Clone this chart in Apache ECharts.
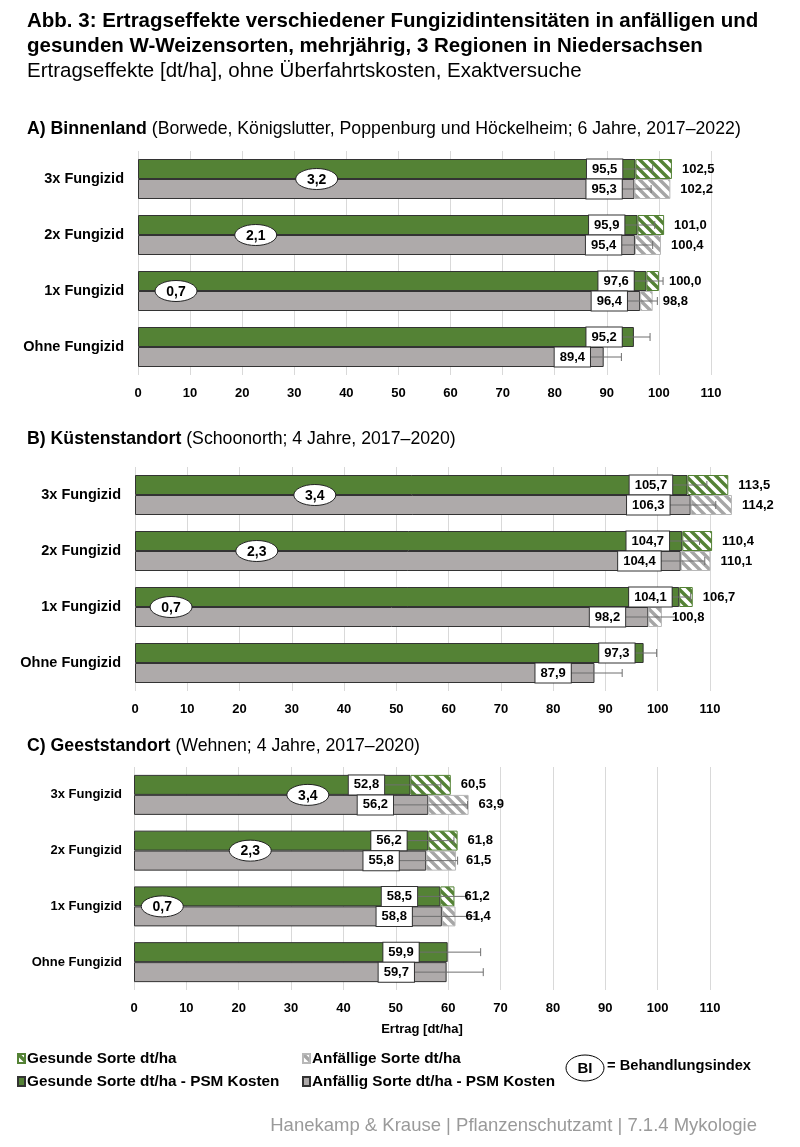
<!DOCTYPE html>
<html>
<head>
<meta charset="utf-8">
<script src="https://cdn.jsdelivr.net/npm/echarts@6/dist/echarts.min.js"></script>
<style>
  html, body { margin: 0; padding: 0; background: #fff; }
  #chart { width: 800px; height: 1147px; }
</style>
</head>
<body>
<div id="chart"></div>
<script>
const categories = ["3x Fungizid", "2x Fungizid", "1x Fungizid", "Ohne Fungizid"];

// A) Binnenland
const aHealthyNet = [95.5, 95.9, 97.6, 95.2];
const aHealthyTotal = [102.5, 101.0, 100.0, null];
const aHealthyErr = [3.3, 3.3, 3.2, 3.1];
const aSuscNet = [95.3, 95.4, 96.4, 89.4];
const aSuscTotal = [102.2, 100.4, 98.8, null];
const aSuscErr = [3.2, 3.4, 3.3, 3.4];
const aBI = [3.2, 2.1, 0.7, null];
const aBIAt = [34.3, 22.6, 7.3, null];

// B) Küstenstandort
const bHealthyNet = [105.7, 104.7, 104.1, 97.3];
const bHealthyTotal = [113.5, 110.4, 106.7, null];
const bHealthyErr = [3.7, 3.3, 2.2, 2.5];
const bSuscNet = [106.3, 104.4, 98.2, 87.9];
const bSuscTotal = [114.2, 110.1, 100.8, null];
const bSuscErr = [4.8, 4.6, 5.2, 5.3];
const bBI = [3.4, 2.3, 0.7, null];
const bBIAt = [34.4, 23.3, 6.9, null];

// C) Geeststandort
const cHealthyNet = [52.8, 56.2, 58.5, 59.9];
const cHealthyTotal = [60.5, 61.8, 61.2, null];
const cHealthyErr = [5.8, 4.9, 5.2, 6.3];
const cSuscNet = [56.2, 55.8, 58.8, 59.7];
const cSuscTotal = [63.9, 61.5, 61.4, null];
const cSuscErr = [7.5, 6.0, 6.5, 7.0];
const cBI = [3.4, 2.3, 0.7, null];
const cBIAt = [33.2, 22.2, 5.4, null];

const SANS = '"Liberation Sans", Arial, sans-serif';
const GREEN = "#548235";
const GRAY = "#aeaaaa";
const fmt = (v) => v.toFixed(1).replace(".", ",");

// diagonal stripes for the "total" part of the bars
function hatch(color) {
  const n = 10;
  const c = document.createElement("canvas");
  c.width = c.height = n;
  const g = c.getContext("2d");
  g.fillStyle = "#fff";
  g.fillRect(0, 0, n, n);
  g.strokeStyle = color;
  g.lineWidth = 3.4;
  g.beginPath();
  g.moveTo(-n / 2, n / 2); g.lineTo(n / 2, n * 1.5);
  g.moveTo(0, 0); g.lineTo(n, n);
  g.moveTo(n / 2, -n / 2); g.lineTo(n * 1.5, n / 2);
  g.stroke();
  return { image: c, repeat: "repeat" };
}

const panels = [
  { hNet: aHealthyNet, hTot: aHealthyTotal, hErr: aHealthyErr, sNet: aSuscNet, sTot: aSuscTotal, sErr: aSuscErr,
    bi: aBI, biAt: aBIAt, grid: { left: 138, width: 573, top: 151, height: 224 }, catSize: 14.5 },
  { hNet: bHealthyNet, hTot: bHealthyTotal, hErr: bHealthyErr, sNet: bSuscNet, sTot: bSuscTotal, sErr: bSuscErr,
    bi: bBI, biAt: bBIAt, grid: { left: 135, width: 575, top: 467, height: 224 }, catSize: 14.5 },
  { hNet: cHealthyNet, hTot: cHealthyTotal, hErr: cHealthyErr, sNet: cSuscNet, sTot: cSuscTotal, sErr: cSuscErr,
    bi: cBI, biAt: cBIAt, grid: { left: 134, width: 576, top: 767, height: 223 }, catSize: 13 },
];

const BAR = 20;

function renderErr(params, api) {
  const k = api.value(0), net = api.value(1), err = api.value(2), tot = api.value(3), gi = api.value(4);
  const yc = api.coord([net, k])[1] + (gi === 0 ? -BAR / 2 : BAR / 2);
  const xl = api.coord([net - err, k])[0];
  const xr = api.coord([net + err, k])[0];
  const ln = { stroke: "#6f6f6f", lineWidth: 1 };
  const children = [
    { type: "line", shape: { x1: xl, y1: yc, x2: xr, y2: yc }, style: ln },
    { type: "line", shape: { x1: xl, y1: yc - 4, x2: xl, y2: yc + 4 }, style: ln },
    { type: "line", shape: { x1: xr, y1: yc - 4, x2: xr, y2: yc + 4 }, style: ln },
    { type: "text", x: xl + 4, y: yc, style: {
        text: fmt(net), align: "right", verticalAlign: "middle",
        fontFamily: SANS, fontWeight: "bold", fontSize: 13, fill: "#000",
        backgroundColor: "#fff", borderColor: "#333", borderWidth: 1,
        padding: [3, 5, 2, 5], lineHeight: 14 } },
  ];
  if (tot > 0) {
    children.push({ type: "text", x: api.coord([tot, k])[0] + 10, y: yc, style: {
      text: fmt(tot), align: "left", verticalAlign: "middle",
      fontFamily: SANS, fontWeight: "bold", fontSize: 13, fill: "#000" } });
  }
  return { type: "group", children };
}

function renderBI(params, api) {
  const p = api.coord([api.value(1), api.value(0)]);
  return { type: "group", children: [
    { type: "ellipse", shape: { cx: p[0], cy: p[1], rx: 21, ry: 10.5 }, style: { fill: "#fff", stroke: "#222", lineWidth: 1 } },
    { type: "text", x: p[0], y: p[1] + 1, style: { text: fmt(api.value(2)), align: "center", verticalAlign: "middle",
        fontFamily: SANS, fontWeight: "bold", fontSize: 14, fill: "#000" } },
  ] };
}

const hatchGreen = hatch(GREEN);
const hatchGray = hatch("#a6a6a6");
const grid = [], xAxis = [], yAxis = [], series = [];

panels.forEach((p, i) => {
  grid.push(p.grid);
  xAxis.push({
    gridIndex: i, type: "value", min: 0, max: 110, interval: 10,
    axisLine: { show: false }, axisTick: { show: false },
    splitLine: { lineStyle: { color: "#d9d9d9", width: 1 } },
    axisLabel: { fontFamily: SANS, fontWeight: "bold", fontSize: 13, color: "#000", margin: 12 },
    ...(i === 2 ? { name: "Ertrag [dt/ha]", nameLocation: "middle", nameGap: 33,
      nameTextStyle: { fontFamily: SANS, fontWeight: "bold", fontSize: 13, color: "#000" } } : {}),
  });
  yAxis.push({
    gridIndex: i, type: "category", inverse: true, data: categories,
    axisLine: { show: false }, axisTick: { show: false },
    axisLabel: { fontFamily: SANS, fontWeight: "bold", fontSize: p.catSize, color: "#000", margin: i === 2 ? 12 : 14 },
  });
  const groups = [
    { net: p.hNet, tot: p.hTot, err: p.hErr, solid: GREEN, pat: hatchGreen, patBorder: GREEN,
      names: ["Gesunde Sorte dt/ha - PSM Kosten", "Gesunde Sorte dt/ha"] },
    { net: p.sNet, tot: p.sTot, err: p.sErr, solid: GRAY, pat: hatchGray, patBorder: "#b8b8b8",
      names: ["Anfällig Sorte dt/ha - PSM Kosten", "Anfällige Sorte dt/ha"] },
  ];
  groups.forEach((g, gi) => {
    const stack = "p" + i + "g" + gi;
    series.push({
      type: "bar", name: g.names[0], xAxisIndex: i, yAxisIndex: i, stack, barWidth: BAR, barGap: "0%",
      clip: false, silent: true, z: 2,
      itemStyle: { color: g.solid, borderColor: "#333", borderWidth: 1 },
      data: g.net,
    });
    series.push({
      type: "bar", name: g.names[1], xAxisIndex: i, yAxisIndex: i, stack, barWidth: BAR, barGap: "0%",
      clip: false, silent: true, z: 2,
      itemStyle: { color: g.pat, borderColor: g.patBorder, borderWidth: 1 },
      data: g.tot.map((t, k) => (t == null ? null : +(t - g.net[k]).toFixed(1))),
    });
    series.push({
      type: "custom", xAxisIndex: i, yAxisIndex: i, silent: true, z: 3, clip: false,
      renderItem: renderErr, encode: { x: 1, y: 0 },
      data: g.net.map((v, k) => [k, v, g.err[k], g.tot[k] == null ? 0 : g.tot[k], gi]),
    });
  });
  series.push({
    type: "custom", xAxisIndex: i, yAxisIndex: i, silent: true, z: 4, clip: false,
    renderItem: renderBI, encode: { x: 1, y: 0 },
    data: p.bi.map((b, k) => [k, p.biAt[k], b]).filter((d) => d[2] != null),
  });
});

const legendText = { fontFamily: SANS, fontWeight: "bold", fontSize: 15.3, color: "#000", padding: [0, 0, 0, -3] };
const panelTitle = { fontFamily: SANS, fontWeight: "normal", fontSize: 17.7, color: "#000",
  rich: { b: { fontFamily: SANS, fontWeight: "bold", fontSize: 17.7, color: "#000" } } };

const option = {
  animation: false,
  backgroundColor: "#fff",
  title: [
    { text: "Abb. 3: Ertragseffekte verschiedener Fungizidintensitäten in anfälligen und\ngesunden W-Weizensorten, mehrjährig, 3 Regionen in Niedersachsen",
      left: 27, top: 9, padding: 0,
      textStyle: { fontFamily: SANS, fontWeight: "bold", fontSize: 20.5, lineHeight: 25, color: "#000" } },
    { text: "Ertragseffekte [dt/ha], ohne Überfahrtskosten, Exaktversuche", left: 27, top: 61, padding: 0,
      textStyle: { fontFamily: SANS, fontWeight: "normal", fontSize: 20.5, color: "#000" } },
    { text: "{b|A) Binnenland} (Borwede, Königslutter, Poppenburg und Höckelheim; 6 Jahre, 2017–2022)",
      left: 27, top: 120, padding: 0, textStyle: panelTitle },
    { text: "{b|B) Küstenstandort} (Schoonorth; 4 Jahre, 2017–2020)",
      left: 27, top: 430, padding: 0, textStyle: panelTitle },
    { text: "{b|C) Geeststandort} (Wehnen; 4 Jahre, 2017–2020)",
      left: 27, top: 737, padding: 0, textStyle: panelTitle },
    { text: "Hanekamp & Krause | Pflanzenschutzamt | 7.1.4 Mykologie", right: 43, top: 1116, padding: 0,
      textStyle: { fontFamily: SANS, fontWeight: "normal", fontSize: 18.5, color: "#9a9a9a" } },
  ],
  legend: [
    { left: 17, top: 1051, orient: "vertical", itemGap: 8, itemWidth: 7, itemHeight: 9, padding: 0,
      selectedMode: false, icon: "rect", textStyle: legendText,
      data: ["Gesunde Sorte dt/ha", "Gesunde Sorte dt/ha - PSM Kosten"] },
    { left: 302, top: 1051, orient: "vertical", itemGap: 8, itemWidth: 7, itemHeight: 9, padding: 0,
      selectedMode: false, icon: "rect", textStyle: legendText,
      data: ["Anfällige Sorte dt/ha", "Anfällig Sorte dt/ha - PSM Kosten"] },
  ],
  graphic: [
    { type: "ellipse", shape: { cx: 585, cy: 1068, rx: 19, ry: 13 }, style: { fill: "#fff", stroke: "#000", lineWidth: 1 } },
    { type: "text", x: 585, y: 1069, style: { text: "BI", align: "center", verticalAlign: "middle",
        fontFamily: SANS, fontWeight: "bold", fontSize: 15, fill: "#000" } },
    { type: "text", x: 607, y: 1066, style: { text: "= Behandlungsindex", align: "left", verticalAlign: "middle",
        fontFamily: SANS, fontWeight: "bold", fontSize: 14.7, fill: "#000" } },
  ],
  grid, xAxis, yAxis, series,
};

echarts.init(document.getElementById("chart"), null, { renderer: "canvas" }).setOption(option);
</script>
</body>
</html>
